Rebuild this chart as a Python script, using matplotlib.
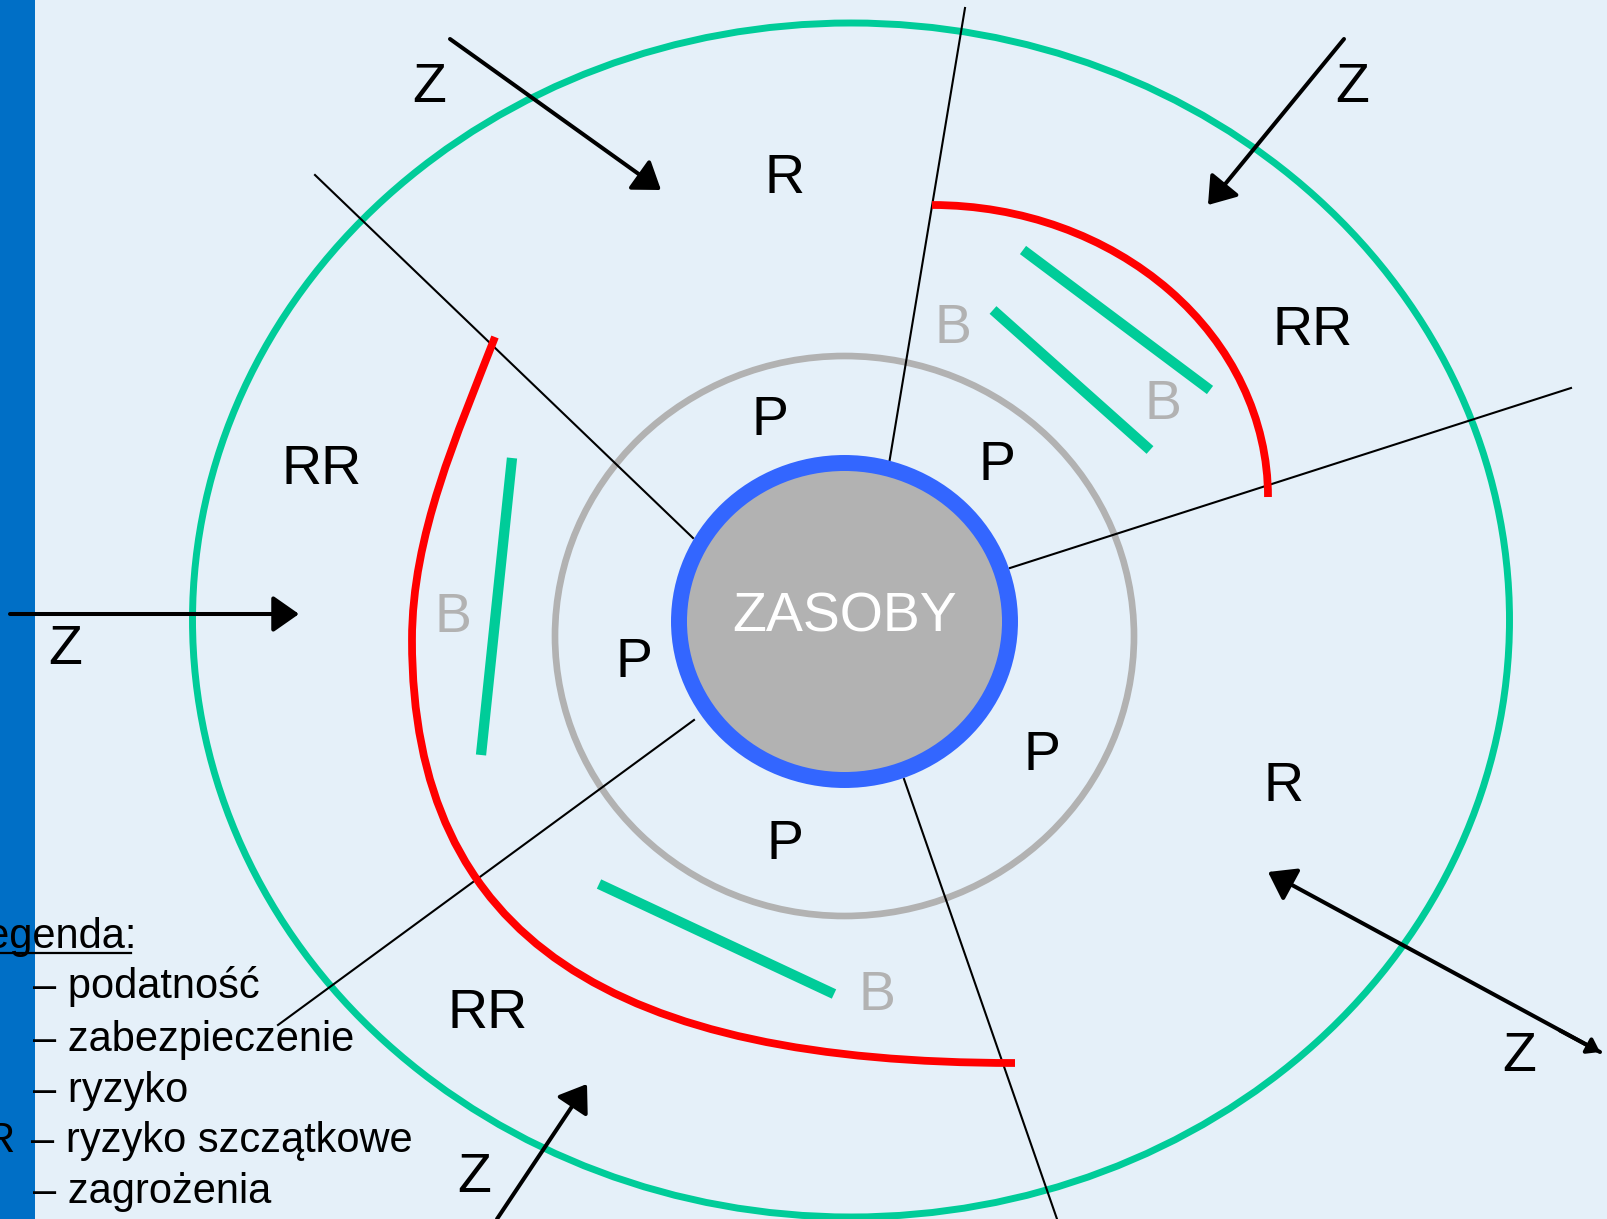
import matplotlib
matplotlib.use("Agg")
import matplotlib.pyplot as plt
from matplotlib.patches import Ellipse, Arc, Rectangle, PathPatch
from matplotlib.path import Path

W, H = 1608, 1219

# colours
BG = "#E5F0F9"
BAR = "#006FC6"
GREEN = "#00CC99"
RED = "#FF0000"
GREY = "#B2B2B2"
BLUE = "#3366FF"

# rings: centre, width, height (pixel space)
outer_ring = ((851, 620), 1317, 1194)
grey_ring = ((844.5, 636), 579, 560)
core = ((844.5, 621.5), 331, 317)

# thin black sector lines
dividers = [((315, 175), (693, 538)),
            ((965, 8), (889, 464)),
            ((1010, 568), (1571, 388)),
            ((694, 720), (278, 1025)),
            ((904, 779), (1057, 1219))]

# green "B" bars
guards = [((1023, 250), (1210, 390)),
          ((993, 310), (1150, 450)),
          ((512, 458), (481, 755)),
          ((599, 884), (834, 994))]

# threat arrows (tail, tip)
threats = [((450, 39), (661, 190)),
           ((1344, 39), (1208, 205)),
           ((10, 614), (299, 614)),
           ((497, 1219), (587, 1084)),
           ((1600, 1052), (1268, 872))]

# red residual risk borders
rr_arc_right = ((932, 497), 672, 584, 270, 360)
rr_left = [(495, 337), (457, 435), (412, 535), (412, 640),
           (412, 940), (615, 1063), (1015, 1063)]

# labels: text, x, baseline y, colour
labels = [("Z", 429, 102, "black"), ("Z", 1352, 102, "black"),
          ("Z", 65, 664, "black"), ("Z", 474, 1192, "black"),
          ("Z", 1519, 1071, "black"),
          ("R", 785, 193, "black"), ("R", 1284, 801, "black"),
          ("RR", 322, 484, "black"), ("RR", 1313, 345, "black"),
          ("RR", 488, 1028, "black"),
          ("P", 770, 435, "black"), ("P", 997, 480, "black"),
          ("P", 634, 677, "black"), ("P", 1042, 770, "black"),
          ("P", 785, 859, "black"),
          ("B", 953, 343, GREY), ("B", 1163, 419, GREY),
          ("B", 453, 632, GREY), ("B", 877, 1010, GREY)]

legend_keys = ["P", "B", "R", "RR", "Z"]
legend_desc = ["podatność", "zabezpieczenie", "ryzyko",
               "ryzyko szczątkowe", "zagrożenia"]
legend_base = [998, 1051, 1102, 1152, 1203]

plt.rcParams['font.family'] = ['Liberation Sans', 'DejaVu Sans']

fig = plt.figure(figsize=(W / 100, H / 100), dpi=100)
fig.patch.set_facecolor(BG)
ax = fig.add_axes([0, 0, 1, 1])
ax.set_xlim(0, W)
ax.set_ylim(H, 0)
ax.axis("off")
ax.set_facecolor(BG)

# rings
c, w, h = outer_ring
ax.add_patch(Ellipse(c, w, h, fill=False, ec=GREEN, lw=5.0, zorder=2))
c, w, h = grey_ring
ax.add_patch(Ellipse(c, w, h, fill=False, ec=GREY, lw=4.8, zorder=2))

for (x0, y0), (x1, y1) in dividers:
    ax.plot([x0, x1], [y0, y1], color="black", lw=1.5, zorder=3)

# residual risk
c, w, h, t1, t2 = rr_arc_right
ax.add_patch(Arc(c, w, h, theta1=t1, theta2=t2, ec=RED, lw=5.6, zorder=4))
codes = [Path.MOVETO] + [Path.CURVE4] * 6
ax.add_patch(PathPatch(Path(rr_left, codes), fill=False, ec=RED, lw=5.6,
                       capstyle="butt", zorder=4))

for (x0, y0), (x1, y1) in guards:
    ax.plot([x0, x1], [y0, y1], color=GREEN, lw=7.4,
            solid_capstyle="butt", zorder=4)

# core asset
c, w, h = core
ax.add_patch(Ellipse(c, w, h, fc=GREY, ec=BLUE, lw=11.5, zorder=5))
ax.text(c[0], 632, "ZASOBY", color="white", fontsize=40,
        ha="center", va="baseline", zorder=6)

# blue side bar
ax.add_patch(Rectangle((0, 0), 35, H, fc=BAR, ec="none", zorder=8))

# arrows
for tail, tip in threats:
    ax.annotate("", xy=tip, xytext=tail,
                arrowprops=dict(arrowstyle="-|>,head_length=0.4,head_width=0.28",
                                mutation_scale=40, lw=2.9, color="black",
                                shrinkA=0, shrinkB=0), zorder=9)
# small head at the far end of the lower-right arrow
ax.annotate("", xy=threats[4][0], xytext=(1560, 1030.5),
            arrowprops=dict(arrowstyle="-|>,head_length=0.4,head_width=0.28",
                            mutation_scale=18, lw=2.9, color="black",
                            shrinkA=0, shrinkB=0), zorder=9)

for txt, x, y, col in labels:
    ax.text(x, y, txt, color=col, fontsize=40, ha="center",
            va="baseline", zorder=7)

# legend
ax.text(-36, 948, "Legenda:", fontsize=30, ha="left", va="baseline", zorder=9)
ax.plot([-36, 131], [953, 953], color="black", lw=1.6, zorder=9)
for key, desc, yb in zip(legend_keys, legend_desc, legend_base):
    ax.text(-44, yb, key, fontsize=30, ha="left", va="baseline", zorder=9)
    ax.text(33 if len(key) == 1 else 31, yb, "– " + desc, fontsize=30,
            ha="left", va="baseline", zorder=9)

fig.savefig("out.png", dpi=100, facecolor=BG)
